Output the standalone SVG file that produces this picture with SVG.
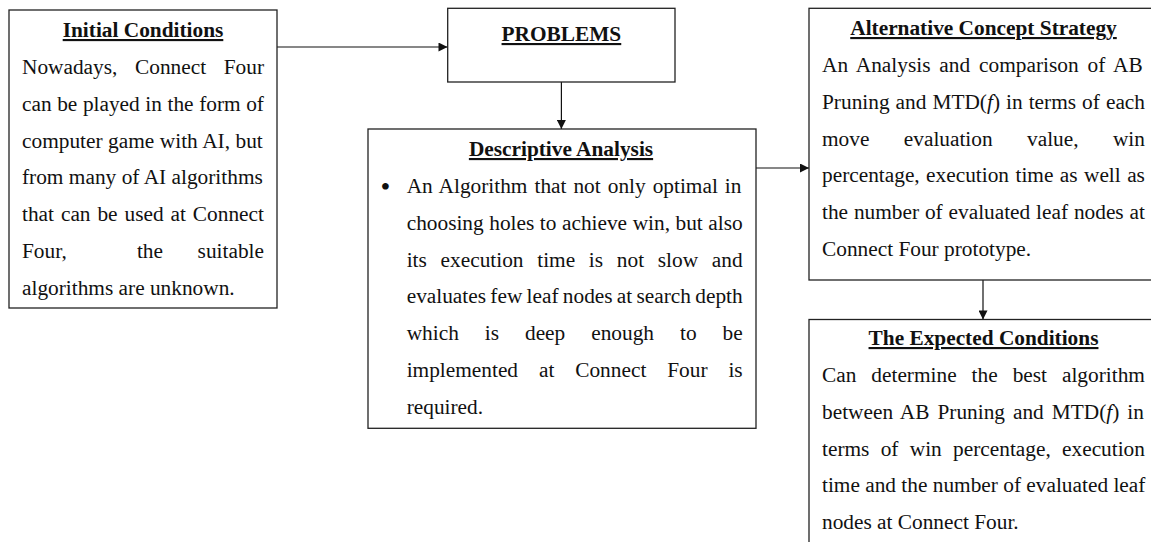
<svg xmlns="http://www.w3.org/2000/svg" width="1151" height="542" viewBox="0 0 1151 542">
<style>
.box{fill:#fff;stroke:#222;stroke-width:1.3}
.t{font-family:"Liberation Serif","Times New Roman",serif;font-size:21.33px;fill:#111}
.h{font-family:"Liberation Serif","Times New Roman",serif;font-size:21.33px;font-weight:bold;fill:#111;text-anchor:middle;text-decoration:underline}
.c{stroke:#111;stroke-width:1.2;fill:none}
</style>
<defs>
<marker id="ah" viewBox="0 0 10 10" refX="10" refY="5" markerUnits="userSpaceOnUse" markerWidth="10" markerHeight="9" orient="auto">
<path d="M0,0 L10,5 L0,10 z" fill="#111"/>
</marker>
</defs>
<rect width="1151" height="542" fill="#fff"/>

<g id="connectors">
<path class="c" d="M277,47 H447.5" marker-end="url(#ah)"/>
<path class="c" d="M561.4,82 V129" marker-end="url(#ah)"/>
<path class="c" d="M756,168 H809" marker-end="url(#ah)"/>
<path class="c" d="M983,280 V319.5" marker-end="url(#ah)"/>
</g>

<g id="initial-conditions">
<rect class="box" x="9" y="10" width="268" height="298"/>
<text class="h" x="143" y="37">Initial Conditions</text>
<text class="t" x="22" y="74" word-spacing="12.3">Nowadays, Connect Four</text>
<text class="t" x="22" y="110.8" word-spacing="0.25">can be played in the form of</text>
<text class="t" x="22" y="147.6" word-spacing="0.22">computer game with AI, but</text>
<text class="t" x="22" y="184.4" word-spacing="0.07">from many of AI algorithms</text>
<text class="t" x="22" y="221.2" word-spacing="1.6">that can be used at Connect</text>
<text class="t" y="258"><tspan x="22">Four,</tspan><tspan x="136.9">the</tspan><tspan x="197.6">suitable</tspan></text>
<text class="t" x="22" y="294.8">algorithms are unknown.</text>
</g>

<g id="problems">
<rect class="box" x="447.7" y="8.3" width="227.3" height="73.7"/>
<text class="h" x="561.4" y="41">PROBLEMS</text>
</g>

<g id="descriptive-analysis">
<rect class="box" x="368" y="129" width="388" height="299.3"/>
<text class="h" x="561" y="156">Descriptive Analysis</text>
<text class="t" x="385.5" y="196" style="font-size:28px;text-anchor:middle">•</text>
<text class="t" x="406.7" y="193" word-spacing="1.68">An Algorithm that not only optimal in</text>
<text class="t" x="406.7" y="229.8" word-spacing="0.22">choosing holes to achieve win, but also</text>
<text class="t" x="406.7" y="266.6" word-spacing="8.4">its execution time is not slow and</text>
<text class="t" x="406.7" y="303.4" word-spacing="-1.05">evaluates few leaf nodes at search depth</text>
<text class="t" x="406.7" y="340.2" word-spacing="20.64">which is deep enough to be</text>
<text class="t" x="406.7" y="377" word-spacing="15.57">implemented at Connect Four is</text>
<text class="t" x="406.7" y="413.8">required.</text>
</g>

<g id="alternative-concept-strategy">
<rect class="box" x="809" y="8.3" width="350" height="271.7"/>
<text class="h" x="983.5" y="35">Alternative Concept Strategy</text>
<text class="t" x="822" y="72" word-spacing="3.58">An Analysis and comparison of AB</text>
<text class="t" x="822" y="108.8" word-spacing="0.72">Pruning and MTD(<tspan font-style="italic">f</tspan>) in terms of each</text>
<text class="t" x="822" y="145.6" word-spacing="29.07">move evaluation value, win</text>
<text class="t" x="822" y="182.4" word-spacing="1.1">percentage, execution time as well as</text>
<text class="t" x="822" y="219.2" word-spacing="0.52">the number of evaluated leaf nodes at</text>
<text class="t" x="822" y="256">Connect Four prototype.</text>
</g>

<g id="expected-conditions">
<rect class="box" x="809" y="319.5" width="350" height="240"/>
<text class="h" x="983.5" y="345">The Expected Conditions</text>
<text class="t" x="822" y="382" word-spacing="9.65">Can determine the best algorithm</text>
<text class="t" x="822" y="418.8" word-spacing="2.64">between AB Pruning and MTD(<tspan font-style="italic">f</tspan>) in</text>
<text class="t" x="822" y="455.6" word-spacing="5.97">terms of win percentage, execution</text>
<text class="t" x="822" y="492.4" word-spacing="0">time and the number of evaluated leaf</text>
<text class="t" x="822" y="529.2">nodes at Connect Four.</text>
</g>
</svg>
